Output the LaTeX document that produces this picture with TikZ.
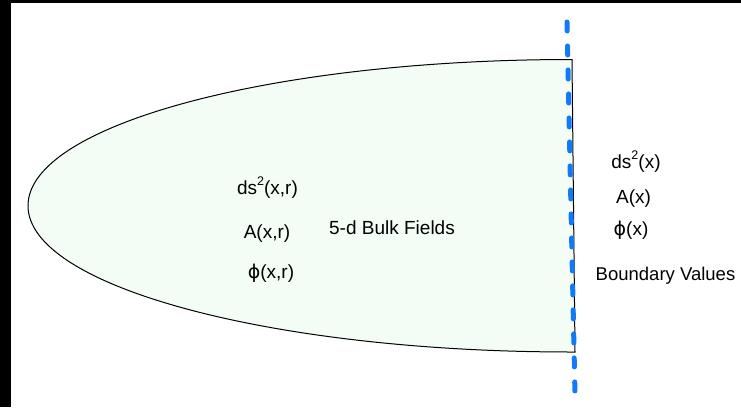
\documentclass[tikz,border=0pt]{standalone}
\usepackage{fontspec}
\setmainfont{Liberation Sans}
\newfontfamily\phifont{DejaVu Sans}
\definecolor{bulkfill}{RGB}{243,253,245}
\definecolor{bdryblue}{RGB}{18,122,246}
\newcommand{\sqr}{\raisebox{0.45em}{\fontsize{12.5}{12.5}\selectfont 2}}
\newcommand{\vphi}{{\phifont ϕ}}
\begin{document}
\begin{tikzpicture}[x=1pt,y=-1pt,
  lbl/.style={anchor=base,inner sep=0pt,font=\fontsize{19}{21}\selectfont},
  bulk/.style={draw=black,line width=1pt,fill=bulkfill},
  bdry/.style={draw=bdryblue,line width=5pt,line cap=round,dash pattern=on 9pt off 15pt}]
\useasboundingbox (0,0) rectangle (741,407);
\fill[white] (0,0) rectangle (741,407);
\fill[black] (0,0) rectangle (741,3);
\fill[black] (0,0) rectangle (11,407);
% bulk region: half ellipse
\coordinate (top) at (572,59.5);
\coordinate (bot) at (575,352);
\draw[bulk] (top) arc[start angle=90,end angle=270,x radius=544pt,y radius=146.25pt] -- (bot) -- cycle;
% boundary
\coordinate (b1) at (567,22);
\coordinate (b2) at (575,395);
\draw[bdry] (b1) -- (b2);
% bulk labels
\node[lbl] (ds) at (267.5,194) {ds\sqr(x,r)};
\node[lbl] (A) at (267,238) {A(x,r)};
\node[lbl] (phi) at (271,278) {\vphi(x,r)};
\node[lbl] (bf) at (392,234) {5-d Bulk Fields};
% boundary labels
\node[lbl] (dsb) at (636,168) {ds\sqr(x)};
\node[lbl] (Ab) at (633.5,203) {A(x)};
\node[lbl] (phib) at (631,235) {\vphi(x)};
\node[lbl,font=\fontsize{18.5}{20}\selectfont] (bv) at (665.5,280) {Boundary Values};
\end{tikzpicture}
\end{document}
